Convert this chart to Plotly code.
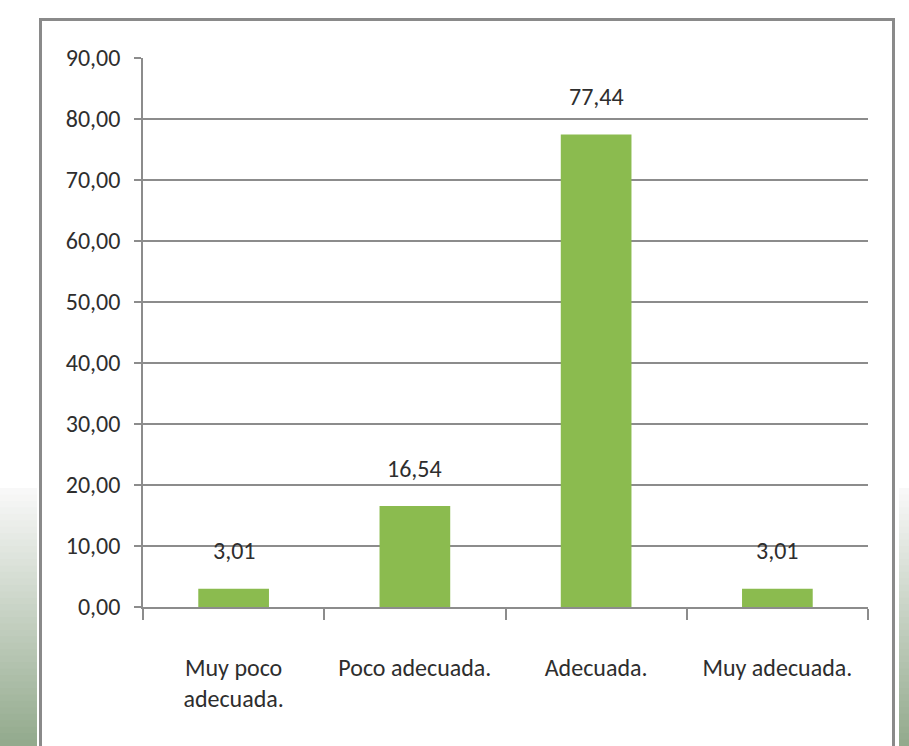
import plotly.graph_objects as go

categories = ["Muy poco<br>adecuada.", "Poco adecuada.", "Adecuada.", "Muy adecuada."]
values = [3.01, 16.54, 77.44, 3.01]
value_labels = ["3,01", "16,54", "77,44", "3,01"]
y_tick_vals = [0, 10, 20, 30, 40, 50, 60, 70, 80, 90]
y_tick_text = ["0,00", "10,00", "20,00", "30,00", "40,00", "50,00", "60,00", "70,00", "80,00", "90,00"]

W, H = 909, 746
L, R, T, B = 143, 41, 58, 139
PW, PH = W - L - R, H - T - B

def px_x(p):
    return (p - L) / PW

def px_y(p):
    return (H - B - p) / PH

FONT = "Carlito, Roboto Condensed, sans-serif"
FSIZE = 24
TXT = "#2e2e2e"
GREEN = "#8bbb4f"
GRID = "#8c8c8c"

fig = go.Figure()
fig.add_trace(go.Bar(x=categories, y=values, marker=dict(color=GREEN, line=dict(width=0)),
                     width=0.39, hoverinfo="skip"))

for c, v, t in zip(categories, values, value_labels):
    fig.add_annotation(x=c, y=v, text=t, showarrow=False, yanchor="middle", yshift=38,
                       font=dict(family=FONT, size=FSIZE, color=TXT))

shapes = []
# gradient strips outside the frame
steps = 40
y0, y1 = 488, 746
c_top = (250, 250, 250)
c_bot = (146, 169, 140)
for i in range(steps):
    ya = y0 + (y1 - y0) * i / steps
    yb = y0 + (y1 - y0) * (i + 1) / steps + 1
    f = (i + 0.5) / steps
    col = "rgb(%d,%d,%d)" % tuple(int(a + (b - a) * f) for a, b in zip(c_top, c_bot))
    for xa, xb in [(0, 37), (899, 909)]:
        shapes.append(dict(type="rect", xref="paper", yref="paper",
                           x0=px_x(xa), x1=px_x(xb), y0=px_y(yb), y1=px_y(ya),
                           fillcolor=col, line=dict(width=0), layer="below"))
# frame
shapes.append(dict(type="rect", xref="paper", yref="paper",
                   x0=px_x(40.5), x1=px_x(893.5), y0=px_y(770), y1=px_y(19.5),
                   line=dict(color="#8a8a8a", width=3), fillcolor="rgba(0,0,0,0)", layer="below"))

fig.update_layout(
    width=W, height=H,
    margin=dict(l=L, r=R, t=T, b=B, pad=0),
    paper_bgcolor="white", plot_bgcolor="white",
    showlegend=False,
    shapes=shapes,
    font=dict(family=FONT, size=FSIZE, color=TXT),
    xaxis=dict(
        type="category", tickson="boundaries", ticks="outside", ticklen=11,
        tickcolor=GRID, tickwidth=1.5, showline=True, linecolor=GRID, linewidth=1.5,
        showgrid=False, tickfont=dict(family=FONT, size=FSIZE, color=TXT),
        ticklabelstandoff=38, range=[-0.5, 3.5],
    ),
    yaxis=dict(
        range=[0, 90], tickvals=y_tick_vals, ticktext=y_tick_text,
        ticks="outside", ticklen=7, tickcolor=GRID, tickwidth=1.5,
        showline=True, linecolor=GRID, linewidth=1.5,
        showgrid=True, gridcolor=GRID, gridwidth=1.5, zeroline=False,
        tickfont=dict(family=FONT, size=FSIZE, color=TXT), ticklabelstandoff=9,
    ),
)

fig.write_html("out.html", config={"displayModeBar": False},
               post_script="document.body.style.margin='0';document.body.style.overflow='hidden';")
